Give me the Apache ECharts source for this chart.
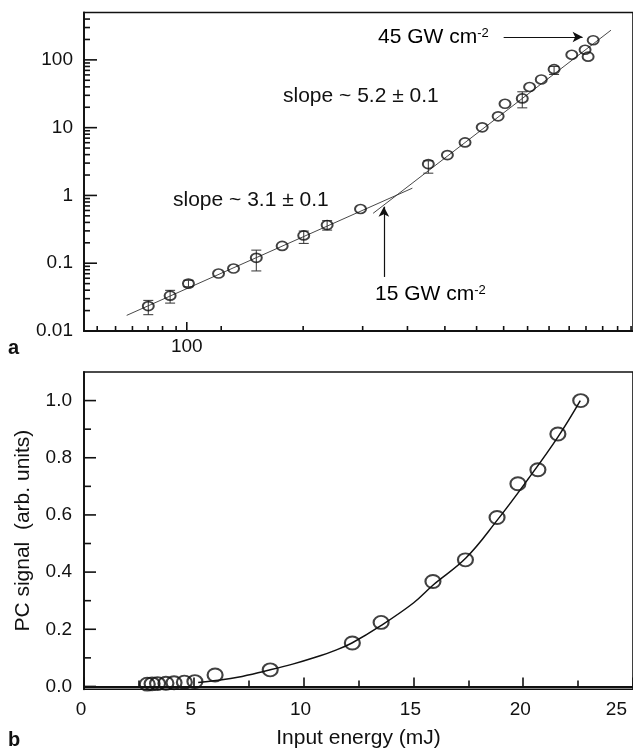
<!DOCTYPE html>
<html>
<head>
<meta charset="utf-8">
<script src="https://cdn.jsdelivr.net/npm/echarts@6/dist/echarts.min.js"></script>
<style>
  html, body { margin: 0; padding: 0; background: #fff; }
  #chart { width: 633px; height: 749px; }
</style>
</head>
<body>
<div id="chart"></div>
<script>
// ---------- Panel a: log-log dependence ----------
const topX = [83.1, 92.3, 100.8, 116.5, 125.2, 139.7, 158.2, 175.5, 196.4, 230.6,
              319.5, 350.2, 381.2, 414, 447, 462, 502, 520, 550, 585, 637, 679, 689, 706];
const topY = [0.0233, 0.0332, 0.05, 0.0704, 0.0835, 0.12, 0.18, 0.257, 0.366, 0.631,
              2.9, 3.94, 6.06, 10.1, 14.7, 22.5, 27, 39.8, 51.4, 73, 119, 141, 111.5, 195];
// error bar limits (null where no bar is drawn)
const topErrLow  = [0.0174, 0.0258, 0.045, null, null, 0.0769, null, 0.196, 0.308, null,
                    2.13, null, null, null, null, null, 19.6, null, null, 61, null, null, null, null];
const topErrHigh = [0.0283, 0.0398, 0.056, null, null, 0.156, null, 0.298, 0.424, null,
                    3.24, null, null, null, null, null, 33.8, null, null, 80, null, null, null, null];

// power-law fits below and above the break
const lowFitX = [74.9, 295.9];
const lowFitY = [0.017, 1.28];
const highFitX = [245, 769];
const highFitY = [0.545, 274];

// axis ticks and labels
const topXMajorTicks = [100];
const topXLabels = ['100'];
const topXMinorTicks = [65, 71, 77, 83, 89, 95, 118, 175, 233, 289, 346, 403, 459,
                        515, 571, 629, 682, 739, 794, 847];
const topYMajorTicks = [0.01, 0.1, 1, 10, 100];
const topYLabels = ['0.01', '0.1', '1', '10', '100'];
const topYMinorMultipliers = [2, 3, 4, 5, 6, 7, 8, 9];

// ---------- Panel b: linear plot ----------
const botX = [2.88, 3.1, 3.35, 3.73, 4.1, 4.57, 5.05, 5.97, 8.48, 12.22, 13.53,
              15.89, 17.37, 18.81, 19.76, 20.67, 21.58, 22.62];
const botY = [0.008, 0.009, 0.01, 0.011, 0.013, 0.015, 0.017, 0.04, 0.058, 0.152, 0.224,
              0.367, 0.443, 0.591, 0.709, 0.758, 0.883, 1.0];
// fitted curve through the data
const curveX = [5.2, 6.0, 7.0, 8.3, 9.5, 10.5, 11.5, 12.2, 13.5, 15.0, 15.9, 17.4, 18.8, 20.2, 21.6, 22.6];
const curveY = [0.014, 0.021, 0.032, 0.055, 0.078, 0.101, 0.128, 0.152, 0.212, 0.292, 0.355, 0.45, 0.58, 0.723, 0.875, 1.0];

const botYMajorTicks = [0, 0.2, 0.4, 0.6, 0.8, 1.0];
const botYLabels = ['0.0', '0.2', '0.4', '0.6', '0.8', '1.0'];
const botYMinorTicks = [0.1, 0.3, 0.5, 0.7, 0.9];

// ---------- build helpers ----------
const FONT = '"Liberation Sans", Arial, Helvetica, sans-serif';
const INK = '#111';

const zip = (a, b) => a.map((v, i) => [v, b[i]]);

const topYMinorTicks = [];
topYMajorTicks.forEach(d => topYMinorMultipliers.forEach(m => {
  const v = d * m;
  if (v < 500) topYMinorTicks.push(v);
}));

const TOP_X_MIN = 61, TOP_X_MAX = 855, TOP_Y_MIN = 0.01, TOP_Y_MAX = 500;
const BOT_X_MIN = 0, BOT_X_MAX = 25, BOT_Y_MIN = -0.01, BOT_Y_MAX = 1.1;

function labelFrom(values, labels) {
  return function (v) {
    for (let i = 0; i < values.length; i++) {
      if (Math.abs(v - values[i]) <= Math.abs(values[i]) * 1e-6 + 1e-9) return labels[i];
    }
    return '';
  };
}

// tick marks drawn inward from the x axis line
function xTickSeries(gridIdx, values, yBase, len) {
  return {
    type: 'custom', xAxisIndex: gridIdx, yAxisIndex: gridIdx, clip: false, silent: true, z: 5,
    data: values.map(v => [v, yBase]),
    renderItem: (params, api) => {
      const p = api.coord([api.value(0), api.value(1)]);
      return { type: 'line', shape: { x1: p[0], y1: p[1], x2: p[0], y2: p[1] - len },
               style: { stroke: INK, lineWidth: 1.6 } };
    }
  };
}
// tick marks drawn inward from the y axis line
function yTickSeries(gridIdx, values, xBase, len) {
  return {
    type: 'custom', xAxisIndex: gridIdx, yAxisIndex: gridIdx, clip: false, silent: true, z: 5,
    data: values.map(v => [xBase, v]),
    renderItem: (params, api) => {
      const p = api.coord([api.value(0), api.value(1)]);
      return { type: 'line', shape: { x1: p[0], y1: p[1], x2: p[0] + len, y2: p[1] },
               style: { stroke: INK, lineWidth: 1.6 } };
    }
  };
}

const errData = [];
topX.forEach((x, i) => {
  if (topErrLow[i] != null) errData.push([x, topErrLow[i], topErrHigh[i]]);
});

const tickLabelStyle = { color: INK, fontSize: 19, fontFamily: FONT };

const option = {
  animation: false,
  backgroundColor: '#fff',
  grid: [
    { left: 84, top: 12.5, width: 549, height: 318.5, show: true, borderColor: INK, borderWidth: 1.6,
      backgroundColor: 'transparent', containLabel: false, outerBoundsMode: 'none' },
    { left: 84, top: 372, width: 549, height: 317.3, show: true, borderColor: INK, borderWidth: 1.6,
      backgroundColor: 'transparent', containLabel: false, outerBoundsMode: 'none' }
  ],
  xAxis: [
    { type: 'log', logBase: 10, gridIndex: 0, min: TOP_X_MIN, max: TOP_X_MAX,
      axisLine: { lineStyle: { color: INK, width: 1.8 } },
      axisTick: { show: false }, minorTick: { show: false }, splitLine: { show: false },
      axisLabel: Object.assign({ margin: 6, formatter: labelFrom(topXMajorTicks, topXLabels),
                                 showMinLabel: false, showMaxLabel: false }, tickLabelStyle) },
    { type: 'value', gridIndex: 1, min: BOT_X_MIN, max: BOT_X_MAX, interval: 5,
      axisLine: { lineStyle: { color: INK, width: 1.8 } },
      axisTick: { show: true, inside: true, length: 9, lineStyle: { color: INK, width: 1.6 } },
      minorTick: { show: true, splitNumber: 2, length: 6, lineStyle: { color: INK, width: 1.6 } },
      splitLine: { show: false },
      axisLabel: Object.assign({ margin: 11, hideOverlap: false, padding: [0, 6, 0, 0],
                                 alignMaxLabel: 'right' }, tickLabelStyle),
      name: 'Input energy (mJ)', nameLocation: 'middle', nameGap: 38,
      nameTextStyle: { color: INK, fontSize: 21, fontFamily: FONT } }
  ],
  yAxis: [
    { type: 'log', logBase: 10, gridIndex: 0, min: TOP_Y_MIN, max: TOP_Y_MAX,
      axisLine: { lineStyle: { color: INK, width: 1.8 } },
      axisTick: { show: false }, minorTick: { show: false }, splitLine: { show: false },
      axisLabel: Object.assign({ margin: 11, formatter: labelFrom(topYMajorTicks, topYLabels) }, tickLabelStyle) },
    { type: 'value', gridIndex: 1, min: BOT_Y_MIN, max: BOT_Y_MAX,
      axisLine: { lineStyle: { color: INK, width: 1.8 } },
      axisTick: { show: false }, minorTick: { show: false }, splitLine: { show: false },
      axisLabel: Object.assign({ margin: 12, formatter: labelFrom(botYMajorTicks, botYLabels) }, tickLabelStyle),
      name: 'PC signal  (arb. units)', nameLocation: 'middle', nameGap: 50,
      nameTextStyle: { color: INK, fontSize: 21, fontFamily: FONT } }
  ],
  series: [
    // panel a ticks
    xTickSeries(0, topXMajorTicks, TOP_Y_MIN, 9),
    xTickSeries(0, topXMinorTicks, TOP_Y_MIN, 5),
    yTickSeries(0, topYMajorTicks, TOP_X_MIN, 13),
    yTickSeries(0, topYMinorTicks, TOP_X_MIN, 6),
    // panel b y ticks
    yTickSeries(1, botYMajorTicks, BOT_X_MIN, 12),
    yTickSeries(1, botYMinorTicks, BOT_X_MIN, 7),
    // fit lines, panel a
    { type: 'line', xAxisIndex: 0, yAxisIndex: 0, data: zip(lowFitX, lowFitY), showSymbol: false,
      silent: true, lineStyle: { color: '#333', width: 0.9 }, z: 3 },
    { type: 'line', xAxisIndex: 0, yAxisIndex: 0, data: zip(highFitX, highFitY), showSymbol: false,
      silent: true, lineStyle: { color: '#333', width: 0.9 }, z: 3,
      markLine: {
        silent: true, animation: false, symbol: ['none', 'arrow'], symbolSize: [8, 10],
        label: { show: false }, lineStyle: { color: INK, width: 1.2, type: 'solid' },
        itemStyle: { color: INK },
        data: [
          [{ coord: [258, 0.0627] }, { coord: [258, 0.683] }],
          [{ coord: [459, 217.8] }, { coord: [671, 217.8] }]
        ]
      } },
    // error bars, panel a
    { type: 'custom', xAxisIndex: 0, yAxisIndex: 0, silent: true, z: 4, data: errData,
      renderItem: (params, api) => {
        const x = api.value(0);
        const lo = api.coord([x, api.value(1)]);
        const hi = api.coord([x, api.value(2)]);
        const c = 5;
        const st = { stroke: '#333', lineWidth: 1 };
        return { type: 'group', children: [
          { type: 'line', shape: { x1: lo[0], y1: lo[1], x2: hi[0], y2: hi[1] }, style: st },
          { type: 'line', shape: { x1: lo[0] - c, y1: lo[1], x2: lo[0] + c, y2: lo[1] }, style: st },
          { type: 'line', shape: { x1: hi[0] - c, y1: hi[1], x2: hi[0] + c, y2: hi[1] }, style: st }
        ] };
      } },
    // data points, panel a
    { type: 'scatter', xAxisIndex: 0, yAxisIndex: 0, data: zip(topX, topY), symbol: 'circle',
      symbolSize: [11, 9], silent: true, z: 6,
      itemStyle: { color: 'rgba(255,255,255,0)', borderColor: INK, borderWidth: 1.8 } },
    // fitted curve, panel b
    { type: 'line', xAxisIndex: 1, yAxisIndex: 1, data: zip(curveX, curveY), smooth: 0.4,
      showSymbol: false, silent: true, lineStyle: { color: INK, width: 1.5 }, z: 3 },
    // data points, panel b
    { type: 'scatter', xAxisIndex: 1, yAxisIndex: 1, data: zip(botX, botY), symbol: 'circle',
      symbolSize: [15, 13], silent: true, z: 6,
      itemStyle: { color: 'rgba(255,255,255,0)', borderColor: INK, borderWidth: 2 } }
  ],
  graphic: [
    { type: 'text', x: 283, y: 96, silent: true,
      style: { text: 'slope ~ 5.2 ± 0.1', font: '21px ' + FONT, fill: INK, align: 'left', verticalAlign: 'middle' } },
    { type: 'text', x: 173, y: 200, silent: true,
      style: { text: 'slope ~ 3.1 ± 0.1', font: '21px ' + FONT, fill: INK, align: 'left', verticalAlign: 'middle' } },
    { type: 'text', x: 375, y: 294, silent: true,
      style: { text: '{m|15 GW cm}{s|-2}', align: 'left', verticalAlign: 'middle',
               rich: { m: { fontSize: 21, fontFamily: FONT, color: INK },
                       s: { fontSize: 13, fontFamily: FONT, color: INK, verticalAlign: 'top' } } } },
    { type: 'text', x: 378, y: 37, silent: true,
      style: { text: '{m|45 GW cm}{s|-2}', align: 'left', verticalAlign: 'middle',
               rich: { m: { fontSize: 21, fontFamily: FONT, color: INK },
                       s: { fontSize: 13, fontFamily: FONT, color: INK, verticalAlign: 'top' } } } },
    { type: 'text', x: 8, y: 348, silent: true,
      style: { text: 'a', font: 'bold 20px ' + FONT, fill: INK, align: 'left', verticalAlign: 'middle' } },
    { type: 'text', x: 8, y: 740, silent: true,
      style: { text: 'b', font: 'bold 20px ' + FONT, fill: INK, align: 'left', verticalAlign: 'middle' } }
  ]
};

const chart = echarts.init(document.getElementById('chart'), null, { renderer: 'canvas' });
chart.setOption(option);
</script>
</body>
</html>
